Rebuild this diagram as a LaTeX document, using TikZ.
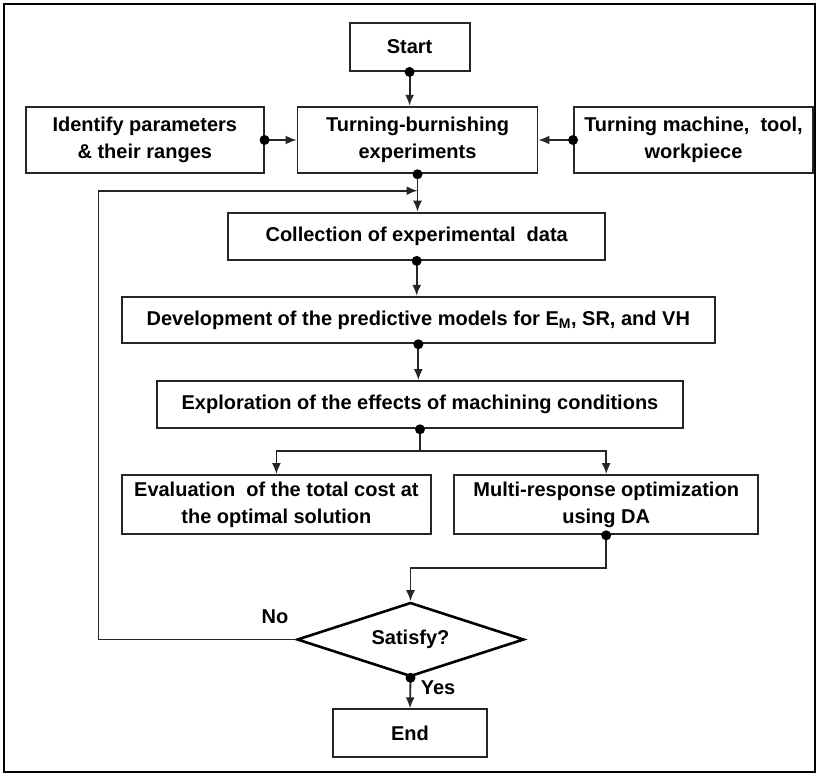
\documentclass[tikz,border=0pt]{standalone}
\usepackage{fontspec}
\setmainfont{Liberation Sans}
\usetikzlibrary{shapes.geometric,arrows.meta}
\begin{document}
\begin{tikzpicture}[x=1pt,y=-1pt,
  txt/.style={font=\fontsize{20}{27.5}\selectfont\bfseries},
  box/.style={txt,draw=black!85,line width=1.9pt,minimum height=47.3pt,inner sep=0pt,align=center},
  conn/.style={line width=1.8pt,draw=black!85},
  arr/.style={conn,-{Latex[length=11pt,width=9pt]}},
  dec/.style={txt,diamond,draw=black,line width=2.6pt,aspect=3.07,minimum width=227pt,minimum height=74pt,inner sep=0pt},
  lbl/.style={txt}]
\useasboundingbox (0,0) rectangle (818,776);
\draw[line width=2.4pt] (4,4) rectangle (815,772);
% nodes
\node[box,minimum width=120pt,minimum height=48pt] (start) at (409.6,47) {Start};
\node[box,minimum width=237.6pt,minimum height=66.6pt] (ident) at (144.8,140) {Identify parameters\\ \& their ranges};
\node[box,minimum width=240pt,minimum height=66.6pt] (tb) at (417.5,140) {Turning-burnishing\\experiments};
\node[box,minimum width=239pt,minimum height=66.6pt] (tm) at (693.5,140) {Turning machine,~ tool,\\workpiece};
\node[box,minimum width=377.4pt] (coll) at (416.7,236.3) {Collection of experimental~ data};
\node[box,minimum width=593.4pt,minimum height=46.6pt] (dev) at (418.3,320) {Development of the predictive models for E\textsubscript{M}, SR, and VH};
\node[box,minimum width=526pt] (expl) at (420,404.7) {Exploration of the effects of machining conditions};
\node[box,minimum width=309.2pt,minimum height=59.3pt] (eval) at (276.4,504.7) {Evaluation~ of the total cost at\\the optimal solution};
\node[box,minimum width=303.7pt,minimum height=59.3pt] (multi) at (606.2,504.7) {Multi-response optimization\\using DA};
\node[dec] (sat) at (410.5,639.5) {Satisfy?};
\node[box,minimum width=154.6pt,minimum height=47.4pt] (end) at (410,733) {End};
\node[lbl] (no) at (275,616.7) {No};
\node[lbl] (yes) at (438,688) {Yes};
% coordinates
\coordinate (fb) at (98.5,190.7);
\coordinate (split) at (420,450.7);
\coordinate (mj) at (606.2,568.3);
% connectors
\draw[arr] (start.south) -- (start.south |- tb.north);
\draw[arr] (ident.east) -- (tb.west);
\draw[arr] (tm.west) -- (tb.east);
\draw[arr] (tb.south) -- (tb.south |- coll.north);
\draw[arr] (sat.west) -| (fb) -- (fb -| tb.south);
\draw[arr] (coll.south) -- (coll.south |- dev.north);
\draw[arr] (dev.south) -- (dev.south |- expl.north);
\draw[conn] (expl.south) -- (split);
\draw[arr] (split) -| (eval.north);
\draw[arr] (split) -| (multi.north);
\draw[arr] (multi.south) -- (mj) -| (sat.north);
\draw[arr] (sat.south) -- (end.north);
% dots
\foreach \p in {start.south,ident.east,tm.west,tb.south,coll.south,dev.south,expl.south,multi.south,sat.south}
  \fill (\p) circle[radius=5pt];
\end{tikzpicture}
\end{document}
